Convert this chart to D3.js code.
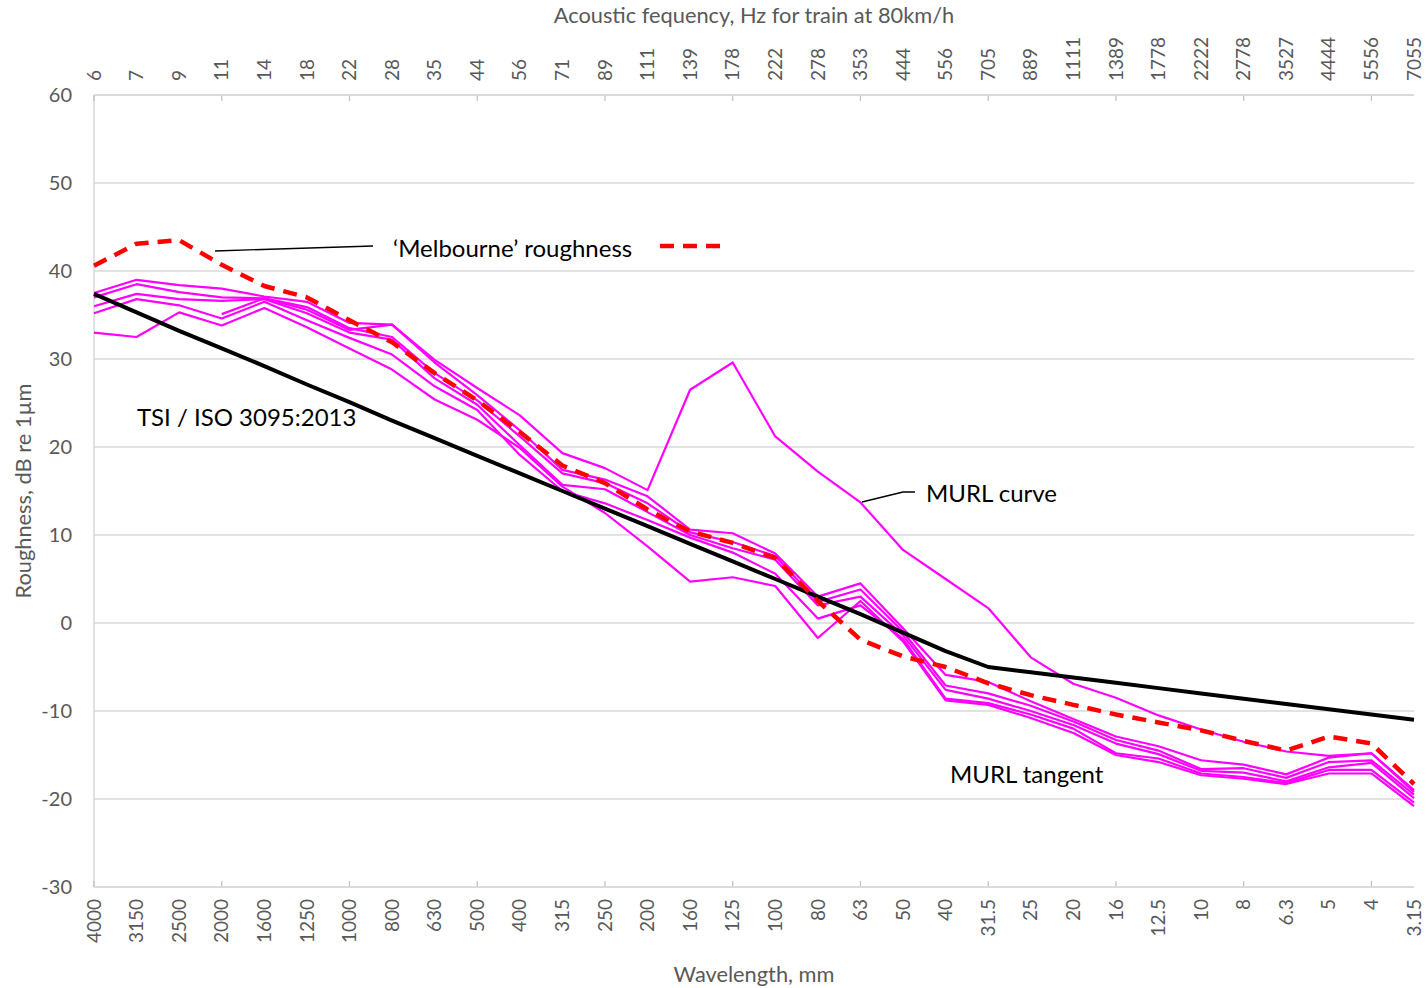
<!DOCTYPE html>
<html>
<head>
<meta charset="utf-8">
<script src="https://cdn.jsdelivr.net/npm/d3@7"></script>
<style>
  html, body { margin: 0; padding: 0; background: #fff; }
  svg { display: block; font-family: Lato, "Noto Sans", sans-serif; }
</style>
</head>
<body>
<svg id="chart" width="1427" height="988"></svg>
<script>
// ---- Data ----
const wavelengths = ["4000","3150","2500","2000","1600","1250","1000","800","630","500","400","315","250","200","160","125","100","80","63","50","40","31.5","25","20","16","12.5","10","8","6.3","5","4","3.15"];
const frequencies = ["6","7","9","11","14","18","22","28","35","44","56","71","89","111","139","178","222","278","353","444","556","705","889","1111","1389","1778","2222","2778","3527","4444","5556","7055"];
const yTicks = [-30,-20,-10,0,10,20,30,40,50,60];

const tsiIso = [37.4,35.3,33.2,31.2,29.2,27.1,25.1,23.0,21.0,19.0,17.0,15.0,13.0,11.0,9.0,7.0,5.0,3.0,1.0,-1.1,-3.2,-5.0,-5.6,-6.2,-6.8,-7.4,-8.0,-8.6,-9.2,-9.8,-10.4,-11.0];
const melbourne = [40.6,43.1,43.5,40.7,38.3,37.0,34.4,31.9,28.4,25.3,21.7,17.9,15.9,12.9,10.4,9.1,7.4,2.5,-1.9,-3.8,-5.0,-6.85,-8.2,-9.3,-10.4,-11.3,-12.2,-13.4,-14.5,-12.9,-13.7,-18.3];
const murlCurve = [null,null,null,35.1,36.9,35.6,33.3,33.9,29.9,26.7,23.6,19.3,17.6,15.1,26.5,29.6,21.2,17.2,13.7,8.3,5.0,1.7,-3.9,-6.9,-8.5,-10.5,-12.1,-13.5,-14.6,-15.1,-14.8,-19.0];
const tangent1 = [37.5,39.0,38.4,38.0,37.1,36.5,34.1,33.9,29.6,25.9,21.9,17.4,16.3,14.4,10.6,10.2,7.9,3.0,4.5,-0.6,-5.9,-6.7,-8.9,-10.9,-12.9,-14.0,-15.6,-16.1,-17.2,-15.3,-14.8,-19.2];
const tangent2 = [37.0,38.5,37.6,37.0,36.9,35.9,33.5,32.5,28.4,25.3,21.2,17.0,15.9,13.6,10.3,9.2,7.6,2.4,3.8,-1.0,-7.1,-8.0,-9.4,-11.2,-13.3,-14.5,-16.6,-16.5,-17.6,-15.8,-15.6,-19.5];
const tangent3 = [36.0,37.4,36.8,36.6,36.8,35.2,33.0,32.2,27.8,24.8,20.2,15.7,15.2,12.6,10.0,8.5,7.2,2.0,3.0,-1.4,-7.6,-8.6,-10.0,-11.6,-13.7,-14.9,-16.8,-17.0,-18.0,-16.4,-15.9,-19.9];
const tangent4 = [35.2,36.8,36.1,34.6,36.5,34.4,32.4,30.5,26.9,24.2,19.1,15.0,13.6,11.7,9.7,8.0,5.6,0.5,2.0,-1.8,-8.6,-9.1,-10.4,-12.0,-14.8,-15.4,-17.1,-17.5,-18.2,-16.7,-16.7,-20.4];
const tangent5 = [33.0,32.5,35.3,33.8,35.8,33.6,31.2,28.8,25.4,23.1,19.9,15.5,12.5,8.7,4.7,5.2,4.2,-1.7,2.5,-2.1,-8.8,-9.3,-10.8,-12.5,-15.0,-15.8,-17.3,-17.7,-18.3,-17.1,-17.1,-20.8];

// ---- Layout ----
const svg = d3.select("#chart");
const pLeft = 94, pRight = 1414, pTop = 95, pBottom = 887;
const x = d3.scalePoint().domain(d3.range(wavelengths.length)).range([pLeft, pRight]);
const y = d3.scaleLinear().domain([-30, 60]).range([pBottom, pTop]);
const gray = "#595959";

// gridlines
svg.append("g").selectAll("line").data(yTicks).join("line")
  .attr("x1", pLeft).attr("x2", pRight)
  .attr("y1", d => y(d)).attr("y2", d => y(d))
  .attr("stroke", "#d9d9d9").attr("stroke-width", 1.5);

// left axis line
svg.append("line").attr("x1", pLeft).attr("x2", pLeft).attr("y1", pTop).attr("y2", pBottom)
  .attr("stroke", "#d9d9d9").attr("stroke-width", 1.5);

// tick marks (every 3 categories) bottom & top
const tickIdx = d3.range(0, wavelengths.length, 3);
svg.append("g").selectAll("line").data(tickIdx).join("line")
  .attr("x1", d => x(d)).attr("x2", d => x(d))
  .attr("y1", pBottom).attr("y2", pBottom - 6)
  .attr("stroke", "#bfbfbf").attr("stroke-width", 1.2);
svg.append("g").selectAll("line").data(tickIdx).join("line")
  .attr("x1", d => x(d)).attr("x2", d => x(d))
  .attr("y1", pTop).attr("y2", pTop + 6)
  .attr("stroke", "#bfbfbf").attr("stroke-width", 1.2);
svg.append("line").attr("x1", pLeft).attr("x2", pRight).attr("y1", pBottom).attr("y2", pBottom)
  .attr("stroke", "#d9d9d9").attr("stroke-width", 1.5);
svg.append("line").attr("x1", pLeft).attr("x2", pRight).attr("y1", pTop).attr("y2", pTop)
  .attr("stroke", "#d9d9d9").attr("stroke-width", 1.5);

// y tick labels
svg.append("g").selectAll("text").data(yTicks).join("text")
  .attr("x", 72).attr("y", d => y(d)).attr("dy", "0.35em")
  .attr("text-anchor", "end").attr("fill", gray).attr("font-size", 20)
  .text(d => d);

// bottom labels
svg.append("g").selectAll("text").data(wavelengths).join("text")
  .attr("transform", (d, i) => `translate(${x(i)},${pBottom + 12}) rotate(-90)`)
  .attr("text-anchor", "end").attr("dy", "0.35em")
  .attr("fill", gray).attr("font-size", 19).text(d => d);

// top labels
svg.append("g").selectAll("text").data(frequencies).join("text")
  .attr("transform", (d, i) => `translate(${x(i)},${pTop - 14}) rotate(-90)`)
  .attr("text-anchor", "start").attr("dy", "0.35em")
  .attr("fill", gray).attr("font-size", 19).text(d => d);

// axis titles
svg.append("text").attr("x", 754).attr("y", 23).attr("text-anchor", "middle")
  .attr("fill", gray).attr("font-size", 21.8).text("Acoustic fequency, Hz for train at 80km/h");
svg.append("text").attr("x", 754).attr("y", 982).attr("text-anchor", "middle")
  .attr("fill", gray).attr("font-size", 21.8).text("Wavelength, mm");
svg.append("text").attr("transform", "translate(31,491) rotate(-90)").attr("text-anchor", "middle")
  .attr("fill", gray).attr("font-size", 21.8).text("Roughness, dB re 1µm");

// ---- Lines ----
const line = d3.line().defined(d => d != null).x((d, i) => x(i)).y(d => y(d));
const pinkSeries = [tangent1, tangent2, tangent3, tangent4, tangent5, murlCurve];
svg.append("g").selectAll("path").data(pinkSeries).join("path")
  .attr("d", d => line(d)).attr("fill", "none")
  .attr("stroke", "#ff00ff").attr("stroke-width", 2.2).attr("stroke-linejoin", "round");

svg.append("path").attr("d", line(tsiIso)).attr("fill", "none")
  .attr("stroke", "#000").attr("stroke-width", 4).attr("stroke-linejoin", "round");

svg.append("path").attr("d", line(melbourne)).attr("fill", "none")
  .attr("stroke", "#ff0000").attr("stroke-width", 4.5)
  .attr("stroke-dasharray", "14,9").attr("stroke-linejoin", "round");

// ---- Annotations ----
svg.append("line").attr("x1", 215).attr("y1", 251).attr("x2", 373).attr("y2", 246)
  .attr("stroke", "#000").attr("stroke-width", 1.3);
svg.append("text").attr("x", 393).attr("y", 257).attr("fill", "#000").attr("font-size", 24)
  .text("‘Melbourne’ roughness");
svg.append("line").attr("x1", 660).attr("x2", 720).attr("y1", 246).attr("y2", 246)
  .attr("stroke", "#ff0000").attr("stroke-width", 4.5).attr("stroke-dasharray", "14,9");

svg.append("text").attr("x", 137).attr("y", 426).attr("fill", "#000").attr("font-size", 24)
  .text("TSI / ISO 3095:2013");

svg.append("polyline").attr("points", "862,502 903,492 915,492").attr("fill", "none")
  .attr("stroke", "#000").attr("stroke-width", 1.3);
svg.append("text").attr("x", 926).attr("y", 502).attr("fill", "#000").attr("font-size", 24)
  .text("MURL curve");

svg.append("text").attr("x", 950).attr("y", 783).attr("fill", "#000").attr("font-size", 24)
  .text("MURL tangent");
</script>
</body>
</html>
